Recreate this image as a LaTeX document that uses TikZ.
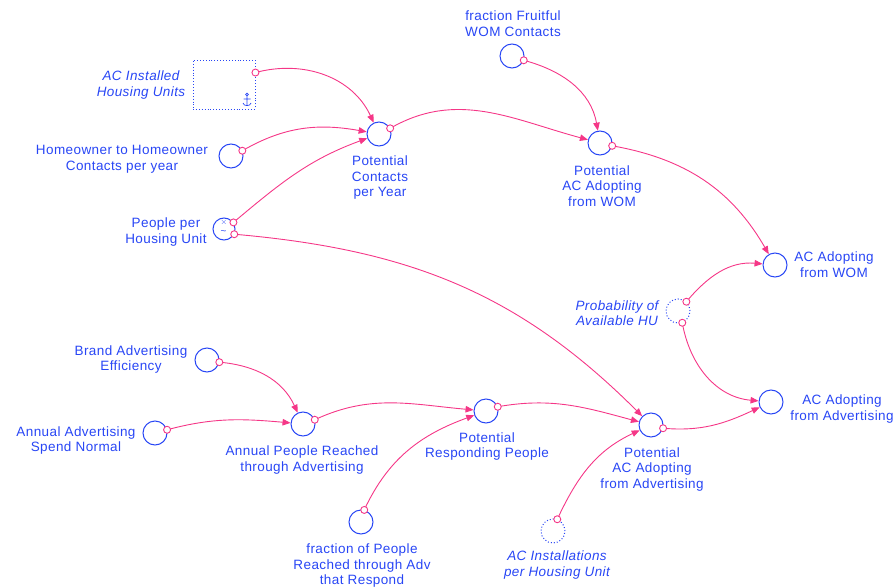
\documentclass[tikz,border=0pt]{standalone}
\usepackage{fontspec}
\setmainfont{Liberation Sans}[LetterSpace=3]
\usetikzlibrary{arrows.meta,calc}
\definecolor{vblue}{RGB}{40,70,245}
\definecolor{vpink}{RGB}{245,55,135}
\begin{document}
\begin{tikzpicture}[x=1pt,y=1pt,
  var/.style={circle,draw=vblue,line width=1pt,minimum size=24pt,inner sep=0pt},
  shadowvar/.style={var,dotted},
  lbl/.style={text=vblue,align=center,inner sep=0pt,font=\fontsize{13.5}{15.5}\selectfont},
  ilbl/.style={lbl,font=\fontsize{13.5}{15.5}\selectfont\itshape},
  link/.style={draw=vpink,line width=0.9pt,-{Triangle[length=8pt,width=6.5pt]}},
  src/.style={draw=vpink,line width=0.9pt,fill=white}]
\useasboundingbox (0,0) rectangle (893,-588);

% variables
\node[draw=vblue,dotted,line width=0.9pt,minimum width=62pt,minimum height=49pt,inner sep=0pt] (acbox) at (224,-84.5) {};
\node[var] (hh) at (231,-156) {};
\node[var,minimum size=22pt] (pphu) at (224,-229) {};
\node[var] (pcy) at (379,-134) {};
\node[var] (ffw) at (512,-56) {};
\node[var] (paaw) at (600,-143) {};
\node[var] (acw) at (775,-265) {};
\node[shadowvar] (prob) at (678,-311) {};
\node[var] (aca) at (771,-402) {};
\node[var] (brand) at (207,-360) {};
\node[var] (aasn) at (155,-433) {};
\node[var] (aprta) at (303,-424) {};
\node[var] (prp) at (486,-411) {};
\node[var] (paaa) at (651,-425) {};
\node[var] (fpr) at (361,-522) {};
\node[shadowvar] (aci) at (553,-531) {};

% connector origins
\coordinate (o1) at ($(acbox.north east)+(0,-13)$);
\coordinate (o2) at (hh.25);
\coordinate (o3) at (pphu.35);
\coordinate (o4) at (pphu.-27);
\coordinate (o5) at (pcy.27);
\coordinate (o6) at (ffw.-20);
\coordinate (o7) at (paaw.-13);
\coordinate (o8) at (prob.48);
\coordinate (o9) at (prob.-70);
\coordinate (o10) at (brand.-10);
\coordinate (o11) at (aasn.15);
\coordinate (o12) at (aprta.20);
\coordinate (o13) at (fpr.75);
\coordinate (o14) at (prp.20);
\coordinate (o15) at (aci.70);
\coordinate (o16) at (paaa.-15);

% connectors
\draw[link] (o1) to[out=15,in=115] (pcy);
\draw[link] (o2) to[out=30,in=170] (pcy);
\draw[link] (o3) to[out=40,in=200] (pcy);
\draw[link] (o4) to[out=-5,in=135] (paaa);
\draw[link] (o5) to[out=30,in=165] (paaw);
\draw[link] (o6) to[out=-15,in=100] (paaw);
\draw[link] (o7) to[out=-10,in=120] (acw);
\draw[link] (o8) to[out=50,in=175] (acw);
\draw[link] (o9) to[out=-80,in=175] (aca);
\draw[link] (o10) to[out=-5,in=115] (aprta);
\draw[link] (o11) to[out=15,in=175] (aprta);
\draw[link] (o12) to[out=25,in=175] (prp);
\draw[link] (o13) to[out=65,in=200] (prp);
\draw[link] (o14) to[out=10,in=165] (paaa);
\draw[link] (o15) to[out=65,in=205] (paaa);
\draw[link] (o16) to[out=-5,in=205] (aca);

\foreach \o in {o1,o2,o3,o4,o5,o6,o7,o8,o9,o10,o11,o12,o13,o14,o15,o16}
  \draw[src] (\o) circle (3.5pt);

% marks inside
\node[text=vblue,inner sep=0pt,font=\fontsize{8}{8}\selectfont] (pphux) at (224,-222.5) {$\times$};
\node[text=vblue,inner sep=0pt,font=\fontsize{10}{10}\selectfont] (pphut) at (223.5,-233) {\textasciitilde};
\draw[vblue,line width=0.7pt] (247,-94.5) circle (1.3pt) (247,-96) -- (247,-106) (243.5,-99) -- (250.5,-99)
  (243,-103) .. controls (243.5,-106.5) and (250.5,-106.5) .. (251,-103);

% labels
\node[ilbl] (lacbox) at (141,-85) {AC Installed\\Housing Units};
\node[lbl] (lhh) at (122,-159.5) {Homeowner to Homeowner\\Contacts per year};
\node[lbl] (lpphu) at (166,-232) {People per\\Housing Unit};
\node[lbl] (lpcy) at (380,-178) {Potential\\Contacts\\per Year};
\node[lbl] (lffw) at (513,-23.5) {fraction Fruitful\\WOM Contacts};
\node[lbl] (lpaaw) at (602,-186) {Potential\\AC Adopting\\from WOM};
\node[lbl] (lacw) at (834,-264.5) {AC Adopting\\from WOM};
\node[ilbl] (lprob) at (617,-313) {Probability of\\Available HU};
\node[lbl] (laca) at (842,-409) {AC Adopting\\from Advertising};
\node[lbl] (lbrand) at (131,-359.5) {Brand Advertising\\Efficiency};
\node[lbl] (laasn) at (76,-440.5) {Annual Advertising\\Spend Normal};
\node[lbl] (laprta) at (302,-460) {Annual People Reached\\through Advertising};
\node[lbl] (lprp) at (487,-446.5) {Potential\\Responding People};
\node[lbl] (lpaaa) at (652,-469.5) {Potential\\AC Adopting\\from Advertising};
\node[lbl] (lfpr) at (362,-566) {fraction of People\\Reached through Adv\\that Respond};
\node[ilbl] (laci) at (557,-565) {AC Installations\\per Housing Unit};
\end{tikzpicture}
\end{document}
